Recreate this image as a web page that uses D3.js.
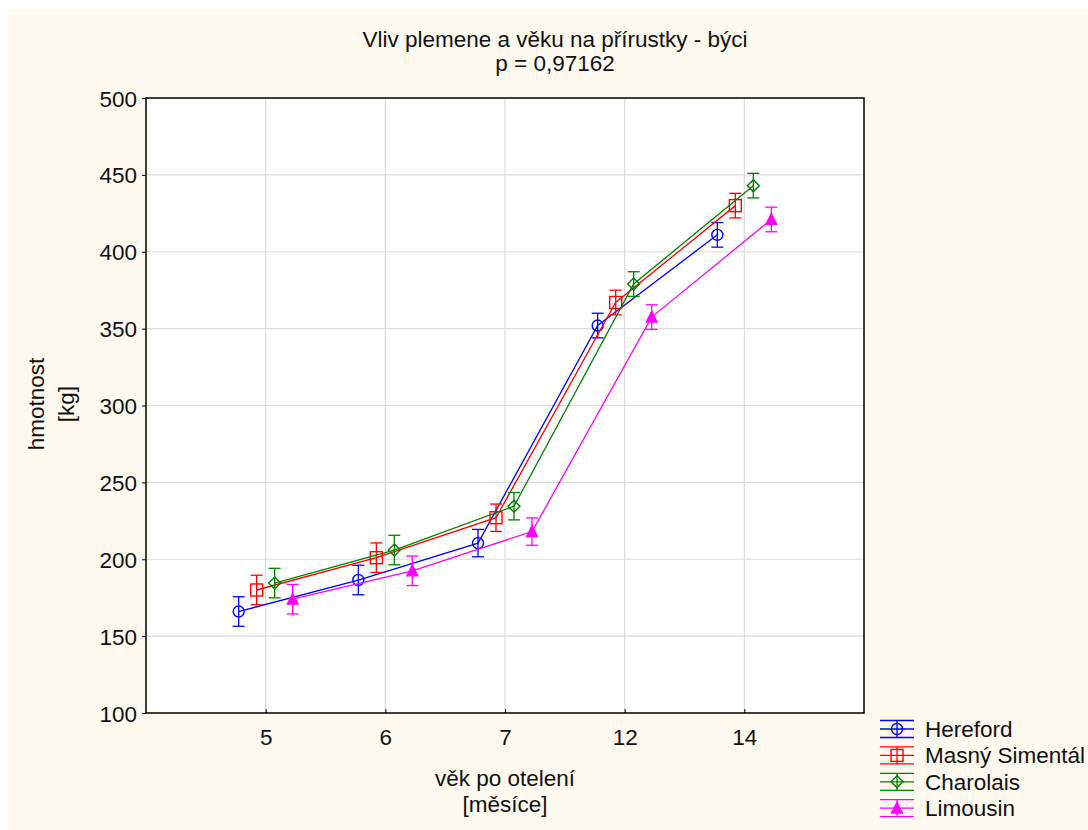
<!DOCTYPE html>
<html>
<head>
<meta charset="utf-8">
<script src="https://cdn.jsdelivr.net/npm/d3@7"></script>
<style>
  body { margin: 0; background: #ffffff; }
  text { font-family: "Liberation Sans", Arial, sans-serif; fill: #111; }
</style>
</head>
<body>
<div id="chart"></div>
<script>
// data
var ages = ["5", "6", "7", "12", "14"];
var breeds = ["Hereford", "Masný Simentál", "Charolais", "Limousin"];
var hereford  = [166, 186.5, 210.5, 352, 411];
var simental  = [180, 201, 227, 367, 430];
var charolais = [184.5, 206, 234.5, 379, 443];
var limousin  = [174, 192.5, 218, 357.5, 421];
var stdErr    = [9.6, 9.6, 8.9, 8, 8];
var yTicks = [100, 150, 200, 250, 300, 350, 400, 450, 500];
var colors = ["#0000ff", "#ff0000", "#008000", "#ff00ff"];
var shapes = ["circle", "square", "diamond", "triangle"];

var series = [hereford, simental, charolais, limousin];
var fs = "22.5px";

// set the dimensions of the plot area
var W = 1088, H = 830;
var plot = {left: 146, top: 98, right: 864, bottom: 713};

var svg = d3.select("#chart")
  .append("svg")
    .attr("width", W)
    .attr("height", H);

// beige page background
svg.append("rect")
  .attr("x", 8).attr("y", 10)
  .attr("width", W - 8).attr("height", H - 10)
  .attr("fill", "#fdf9ef");

svg.append("rect")
  .attr("x", plot.left).attr("y", plot.top)
  .attr("width", plot.right - plot.left).attr("height", plot.bottom - plot.top)
  .attr("fill", "#ffffff");

var x = d3.scalePoint().domain(ages).range([plot.left, plot.right]).padding(1);
var offset = d3.scalePoint().domain(breeds).range([-27, 27]);
var y = d3.scaleLinear().domain([100, 500]).range([plot.bottom, plot.top]);

// grid
svg.append("g")
  .selectAll("line")
  .data(yTicks.slice(1, -1))
  .enter().append("line")
    .attr("x1", plot.left).attr("x2", plot.right)
    .attr("y1", function(d) { return y(d); })
    .attr("y2", function(d) { return y(d); })
    .attr("stroke", "#dcdcdc").attr("stroke-width", 1.2);

svg.append("g")
  .selectAll("line")
  .data(ages)
  .enter().append("line")
    .attr("x1", function(d) { return x(d); })
    .attr("x2", function(d) { return x(d); })
    .attr("y1", plot.top).attr("y2", plot.bottom)
    .attr("stroke", "#dcdcdc").attr("stroke-width", 1.2);

// axes
var yAxis = svg.append("g")
  .attr("transform", "translate(" + plot.left + ",0)")
  .call(d3.axisLeft(y).tickValues(yTicks).tickSize(4).tickPadding(5));
yAxis.select(".domain").remove();
yAxis.selectAll("text").style("font-size", fs).attr("dy", "0.36em");

var xAxis = svg.append("g")
  .attr("transform", "translate(0," + plot.bottom + ")")
  .call(d3.axisBottom(x).tickSize(-4).tickPadding(16));
xAxis.select(".domain").remove();
xAxis.selectAll("text").style("font-size", fs);

// frame
svg.append("rect")
  .attr("x", plot.left).attr("y", plot.top)
  .attr("width", plot.right - plot.left).attr("height", plot.bottom - plot.top)
  .attr("fill", "none").attr("stroke", "#000").attr("stroke-width", 1.5);

function drawMarker(g, shape, color, cx, cy) {
  if (shape == "circle") {
    g.append("circle").attr("cx", cx).attr("cy", cy).attr("r", 5.5)
      .attr("fill", "none").attr("stroke", color).attr("stroke-width", 1.4);
  } else if (shape == "square") {
    g.append("rect").attr("x", cx - 6).attr("y", cy - 6).attr("width", 12).attr("height", 12)
      .attr("fill", "none").attr("stroke", color).attr("stroke-width", 1.4);
  } else if (shape == "diamond") {
    g.append("path").attr("d", "M" + cx + "," + (cy - 6) + "L" + (cx + 6) + "," + cy +
        "L" + cx + "," + (cy + 6) + "L" + (cx - 6) + "," + cy + "Z")
      .attr("fill", "none").attr("stroke", color).attr("stroke-width", 1.4);
  } else {
    g.append("path").attr("d", "M" + cx + "," + (cy - 6) + "L" + (cx + 5.5) + "," + (cy + 5) +
        "L" + (cx - 5.5) + "," + (cy + 5) + "Z")
      .attr("fill", color).attr("stroke", color).attr("stroke-width", 1.2);
  }
}

// series
series.forEach(function(vals, i) {
  var g = svg.append("g");
  var pts = vals.map(function(v, j) { return {px: x(ages[j]) + offset(breeds[i]), v: v, e: stdErr[j]}; });

  g.append("path")
    .datum(pts)
    .attr("fill", "none")
    .attr("stroke", colors[i])
    .attr("stroke-width", 1.3)
    .attr("d", d3.line().x(function(d) { return d.px; }).y(function(d) { return y(d.v); }));

  pts.forEach(function(d) {
    var top = y(d.v + d.e), bot = y(d.v - d.e);
    g.append("line").attr("x1", d.px).attr("x2", d.px).attr("y1", top).attr("y2", bot)
      .attr("stroke", colors[i]).attr("stroke-width", 1.3);
    g.append("line").attr("x1", d.px - 6).attr("x2", d.px + 6).attr("y1", top).attr("y2", top)
      .attr("stroke", colors[i]).attr("stroke-width", 1.3);
    g.append("line").attr("x1", d.px - 6).attr("x2", d.px + 6).attr("y1", bot).attr("y2", bot)
      .attr("stroke", colors[i]).attr("stroke-width", 1.3);
    drawMarker(g, shapes[i], colors[i], d.px, y(d.v));
  });
});

// titles
svg.append("text")
  .attr("x", 555).attr("y", 47)
  .style("text-anchor", "middle").style("font-size", fs)
  .text("Vliv plemene a věku na přírustky - býci");
svg.append("text")
  .attr("x", 555).attr("y", 71)
  .style("text-anchor", "middle").style("font-size", fs)
  .text("p = 0,97162");

svg.append("text")
  .attr("x", 505).attr("y", 786)
  .style("text-anchor", "middle").style("font-size", fs)
  .text("věk po otelení");
svg.append("text")
  .attr("x", 505).attr("y", 812)
  .style("text-anchor", "middle").style("font-size", fs)
  .text("[měsíce]");

svg.append("text")
  .attr("transform", "translate(44,404) rotate(-90)")
  .style("text-anchor", "middle").style("font-size", fs)
  .text("hmotnost");
svg.append("text")
  .attr("transform", "translate(74,404) rotate(-90)")
  .style("text-anchor", "middle").style("font-size", fs)
  .text("[kg]");

// legend
var legend = svg.append("g");
breeds.forEach(function(b, i) {
  var cy = 729 + i * 26.4;
  var g = legend.append("g");
  [-8.5, 0, 8.5].forEach(function(dy) {
    g.append("line").attr("x1", 880).attr("x2", 914).attr("y1", cy + dy).attr("y2", cy + dy)
      .attr("stroke", colors[i]).attr("stroke-width", 1.3);
  });
  g.append("line").attr("x1", 897).attr("x2", 897).attr("y1", cy - 8.5).attr("y2", cy + 8.5)
    .attr("stroke", colors[i]).attr("stroke-width", 1.3);
  drawMarker(g, shapes[i], colors[i], 897, cy);
  g.append("text").attr("x", 925).attr("y", cy + 8)
    .style("font-size", fs)
    .text(b);
});
</script>
</body>
</html>
